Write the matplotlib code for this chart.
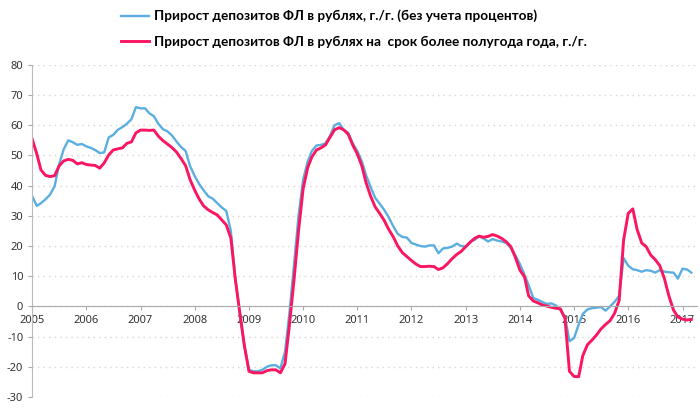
import matplotlib
matplotlib.use('Agg')
import matplotlib.pyplot as plt
import matplotlib.dates as mdates
import pandas as pd

plt.rcParams['axes.unicode_minus'] = False

# monthly, Jan 2005 - Mar 2017
months = pd.date_range('2005-01-01', '2017-03-01', freq='MS')

# прирост депозитов ФЛ в рублях, г./г. (без учета процентов)
blue = [36.5, 33.3, 34.2, 35.5, 37, 39.8, 47, 52, 55, 54.4, 53.5, 53.8,
        53, 52.5, 51.8, 50.8, 51, 56, 56.8, 58.5, 59.4, 60.5, 62, 66,
        65.6, 65.6, 64, 63, 60.5, 58.7, 58, 56.6, 54.6, 52.8, 51.5, 46.5,
        43.2, 40.5, 38.5, 36.5, 35.7, 34.2, 32.8, 31.6, 25, 9, -2, -13,
        -21, -21.5, -21.5, -21, -20, -19.5, -19.5, -20.5, -15, -2, 14, 30,
        42, 48, 51.5, 53.3, 53.5, 54, 56.5, 60, 60.7, 58.5, 57.5, 54,
        51.5, 48, 43.5, 39.5, 36, 34, 32, 29.5, 26.5, 24, 23, 22.8,
        21, 20.5, 20, 19.8, 20.2, 20.2, 17.6, 19.2, 19.4, 19.8, 20.8, 20,
        19.8, 21.5, 22, 23.2, 22.5, 21.5, 22.3, 21.8, 21.5, 21, 19.3, 17,
        14, 10.5, 7, 2.8, 2.2, 1.5, 0.8, 1, 0.3, -1.2, -3.5, -11.5,
        -10.5, -6, -2.5, -1, -0.6, -0.4, -0.2, -1.4, 0, 1.5, 3.5, 16,
        13.5, 12.3, 12, 11.5, 12, 11.8, 11.2, 12, 11.5, 11.3, 11.2, 9.2,
        12.5, 12.2, 11.2]

# прирост депозитов ФЛ в рублях на срок более полугода, г./г.
red = [55.4, 50.5, 45.2, 43.4, 43, 43.3, 46.5, 48.2, 48.7, 48.4, 47.2, 47.6,
       47, 46.8, 46.7, 45.8, 47.5, 50.2, 51.8, 52.2, 52.5, 54, 54.5, 57.5,
       58.4, 58.4, 58.3, 58.4, 56.4, 54.9, 53.8, 52.6, 51.1, 49, 46.6, 42,
       38.5, 35.5, 33.3, 32, 31.1, 30.3, 28.7, 27, 22.6, 9, -2.5, -13,
       -21.5, -22, -22, -22, -21.3, -21, -21, -22, -19, -6, 9, 25,
       39, 46, 49.5, 51.8, 52.5, 53.5, 56, 58.5, 59.2, 58.5, 57, 53.5,
       50.5, 46.5, 41, 36.5, 33, 30.8, 28.5, 25.5, 23, 20, 17.8, 16.5,
       15.2, 14, 13.2, 13.2, 13.3, 13.2, 12.2, 12.8, 14.2, 15.8, 17.2, 18.2,
       19.8, 21.3, 22.5, 23.3, 22.9, 23.2, 23.8, 23.3, 22.5, 21.4, 19.8, 16.3,
       12, 9.8, 3.5, 1.8, 1.2, 0.5, 0.1, -0.3, -0.6, -0.8, -4, -21.5,
       -23.2, -23.3, -16.3, -12.7, -11.2, -9.5, -7.5, -6, -4.7, -2.3, 2, 22,
       30.8, 32.3, 25.5, 21, 19.8, 17, 15.5, 13.5, 9.2, 3.5, -1.2, -3.5,
       -4.2, -4.5, -4.3]

label_blue = 'Прирост депозитов ФЛ в рублях, г./г. (без учета процентов)'
label_red = 'Прирост депозитов ФЛ в рублях на  срок более полугода года, г./г.'

fig = plt.figure(figsize=(7, 4.08), dpi=100)
ax = fig.add_axes([0.046, 0.027, 0.950, 0.814])

ax.plot(months, blue, color='#5aaee0', lw=1.7, label=label_blue)
ax.plot(months, red, color='#fa1660', lw=2.1, label=label_red)

ax.set_ylim(-30, 80)
ax.set_yticks(range(-30, 81, 10))
ax.set_xlim(pd.Timestamp('2005-01-01'), pd.Timestamp('2017-04-10'))
ax.xaxis.set_major_locator(mdates.YearLocator())
ax.xaxis.set_major_formatter(mdates.DateFormatter('%Y'))

# dotted horizontal grid
ax.yaxis.grid(True, linestyle=(0, (1, 3)), color='#dcd4c6', lw=1)
ax.set_axisbelow(True)

for s in ['top', 'right']:
    ax.spines[s].set_visible(False)
ax.spines['bottom'].set_position(('data', 0))
ax.spines['bottom'].set_color('#aaaaaa')
ax.spines['left'].set_color('#bbbbbb')
ax.tick_params(axis='both', colors='#aaaaaa', labelcolor='#333333',
               labelsize=8, length=3)
ax.tick_params(axis='x', pad=3)
for t in ax.get_xticklabels() + ax.get_yticklabels():
    t.set_family('Noto Sans')

fig.legend(loc='upper left', bbox_to_anchor=(0.156, 1.006), frameon=False,
           handlelength=2.0, handletextpad=0.4, labelspacing=1.0,
           prop={'family': 'Lato', 'weight': 'bold', 'size': 9.8})

fig.savefig('out.png', dpi=100)
